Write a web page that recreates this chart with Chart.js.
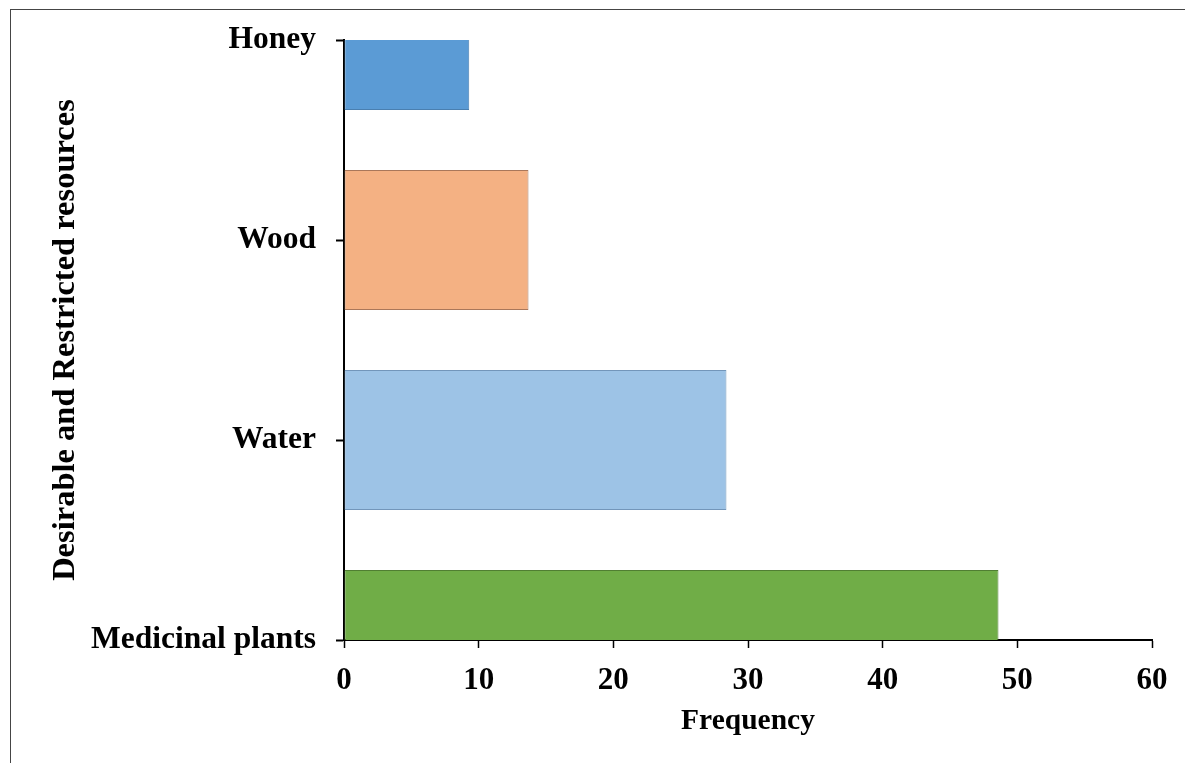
<!DOCTYPE html>
<html>
<head>
<meta charset="utf-8">
<script src="https://cdn.jsdelivr.net/npm/chart.js@4/dist/chart.umd.min.js"></script>
<style>
    html, body { margin: 0; padding: 0; background: #fff; }
    #wrap { position: relative; width: 1185px; height: 763px; overflow: hidden; }
    #frame { position: absolute; left: 10px; top: 9px; width: 1300px; height: 900px; border-top: 1.5px solid #454545; border-left: 1.5px solid #454545; }
    #chart { position: absolute; left: 0; top: 0; }
</style>
</head>
<body>
<div id="wrap">
    <div id="frame"></div>
    <canvas id="chart" width="1185" height="763"></canvas>
</div>
<script>
// Data (top to bottom)
const categories = ['Honey', 'Wood', 'Water', 'Medicinal plants'];
const frequency = [9.3, 13.7, 28.4, 48.6];
const barColors = ['#5B9BD5', '#F4B183', '#9DC3E6', '#70AD47'];
const barBorders = ['#4A7FB0', '#A9775A', '#7396BA', '#507E32'];
const xTicks = [0, 10, 20, 30, 40, 50, 60];

const serif = '"Liberation Serif", "Times New Roman", serif';

const ctx = document.getElementById('chart').getContext('2d');
new Chart(ctx, {
    type: 'bar',
    data: {
        labels: categories,
        datasets: [{
            label: 'Frequency',
            data: frequency,
            backgroundColor: barColors,
            borderColor: barBorders,
            borderWidth: 1,
            borderSkipped: false,
            categoryPercentage: 1,
            barPercentage: 0.7,
            clip: 0
        }]
    },
    options: {
        indexAxis: 'y',
        responsive: false,
        animation: false,
        layout: {
            padding: { top: 40, right: 33, bottom: 0, left: 0 }
        },
        plugins: {
            legend: { display: false },
            tooltip: { enabled: false }
        },
        scales: {
            x: {
                min: xTicks[0],
                max: xTicks[xTicks.length - 1],
                afterBuildTicks: function(scale) {
                    scale.ticks = xTicks.map(v => ({ value: v }));
                },
                afterFit: function(scale) {
                    scale.height = 123;
                },
                border: { display: true, color: '#000', width: 2 },
                grid: { drawOnChartArea: false, drawTicks: true, tickLength: 8, color: '#000', tickWidth: 1.5 },
                ticks: {
                    color: '#000',
                    padding: 14,
                    font: { family: serif, size: 31, weight: 'bold' }
                },
                title: {
                    display: true,
                    text: 'Frequency',
                    color: '#000',
                    padding: { top: 0, bottom: 24 },
                    font: { family: serif, size: 29.5, weight: 'bold' }
                }
            },
            y: {
                offset: false,
                afterFit: function(scale) {
                    scale.width = 344;
                },
                border: { display: true, color: '#000', width: 2 },
                grid: { offset: false, drawOnChartArea: false, drawTicks: true, tickLength: 8, color: '#000', tickWidth: 2 },
                ticks: {
                    color: '#000',
                    padding: 20,
                    font: { family: serif, size: 31.5, weight: 'bold' }
                },
                title: {
                    display: true,
                    text: 'Desirable and Restricted resources',
                    color: '#000',
                    padding: { top: 46, bottom: 0 },
                    font: { family: serif, size: 32.5, weight: 'bold' }
                }
            }
        }
    }
});
</script>
</body>
</html>
